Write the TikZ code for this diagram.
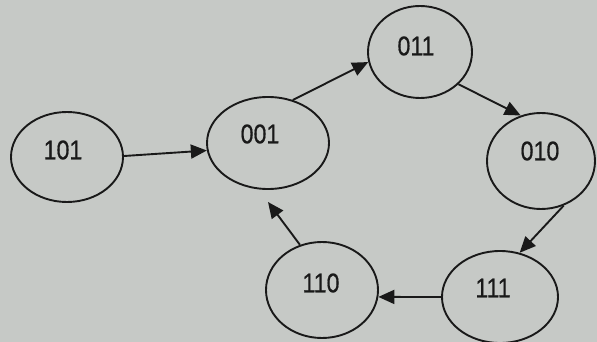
\documentclass[tikz,border=0pt]{standalone}
\usepackage{fontspec}
\setmainfont{Liberation Sans}
\newfontfamily\codefont{Liberation Sans}[FakeBold=0.6]
\usetikzlibrary{shapes.geometric,arrows.meta}
\definecolor{paper}{RGB}{198,201,198}
\definecolor{ink}{RGB}{25,25,25}
\newcommand{\statecode}[1]{\scalebox{0.86}[1]{#1}}
\begin{document}
\begin{tikzpicture}[x=1pt,y=-1pt,
  state/.style={ellipse,draw=ink,line width=1.9pt,inner sep=0pt},
  code/.style={text=ink,font=\codefont\fontsize{27}{27}\selectfont,inner sep=0pt},
  flow/.style={draw=ink,line width=1.9pt,-{Triangle[length=16pt,width=14pt]}}]
\fill[paper] (0,0) rectangle (597,342);
\useasboundingbox (0,0) rectangle (597,342);

% states
\node[state,minimum width=112pt,minimum height=90pt] (s101) at (67,157) {};
\node[state,minimum width=122pt,minimum height=92pt] (s001) at (268,143) {};
\node[state,minimum width=104pt,minimum height=92pt] (s011) at (420,52) {};
\node[state,minimum width=108pt,minimum height=96pt] (s010) at (541,161) {};
\node[state,minimum width=116pt,minimum height=92pt] (s111) at (500,297) {};
\node[state,minimum width=112pt,minimum height=96pt] (s110) at (322,290) {};

% state codes
\node[code] (t101) at (63,150) {\statecode{101}};
\node[code] (t001) at (260,134) {\statecode{001}};
\node[code] (t011) at (416,46) {\statecode{011}};
\node[code] (t010) at (540,151) {\statecode{010}};
\node[code] (t111) at (493,288) {\statecode{111}};
\node[code] (t110) at (321,283) {\statecode{110}};

% transitions
\coordinate (back) at (268,202);
\draw[flow] (s101.1) -- (s001.187);
\draw[flow] (s001.60) -- (s011.191);
\draw[flow] (s011.-40) -- (s010.114);
\draw[flow] (s010.-63) -- (s111.66);
\draw[flow] (s111.180) -- (s110.-7);
\draw[flow] (s110.116) -- (back);
\end{tikzpicture}
\end{document}
